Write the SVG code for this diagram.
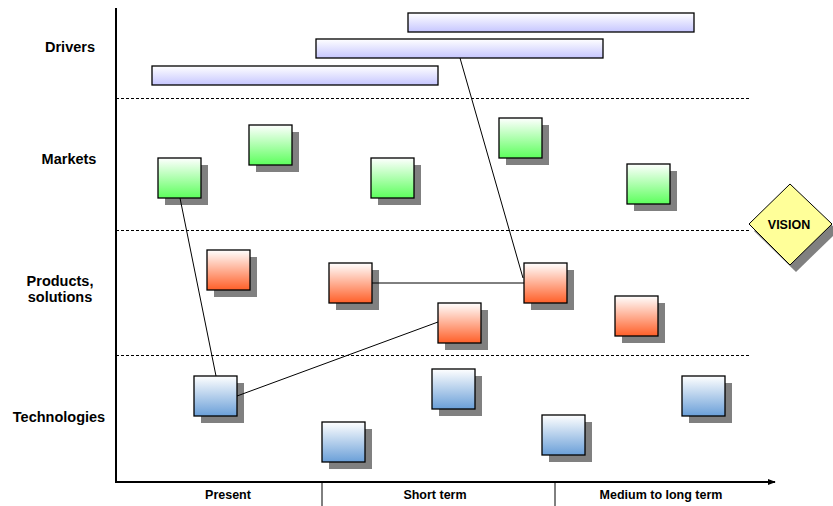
<svg xmlns="http://www.w3.org/2000/svg" width="833" height="506" viewBox="0 0 833 506">
<defs>
<linearGradient id="gG" x1="0" y1="0" x2="0" y2="1"><stop offset="0" stop-color="#ffffff"/><stop offset="1" stop-color="#5cff5c"/></linearGradient>
<linearGradient id="gR" x1="0" y1="0" x2="0" y2="1"><stop offset="0" stop-color="#ffffff"/><stop offset="1" stop-color="#ff5f28"/></linearGradient>
<linearGradient id="gB" x1="0" y1="0" x2="0" y2="1"><stop offset="0" stop-color="#ffffff"/><stop offset="1" stop-color="#6a9fd8"/></linearGradient>
<linearGradient id="gP" x1="0" y1="0" x2="0" y2="1"><stop offset="0" stop-color="#ffffff"/><stop offset="1" stop-color="#c6c6ff"/></linearGradient>
<marker id="arr" viewBox="0 0 10 10" refX="9" refY="5" markerWidth="8" markerHeight="8" markerUnits="userSpaceOnUse" orient="auto"><path d="M0,1 L10,5 L0,9 z" fill="#000"/></marker>
</defs>
<style>
.lbl{font-family:"Liberation Sans",Arial,sans-serif;font-weight:bold;font-size:14.5px;fill:#000;text-anchor:middle}
.ax{font-family:"Liberation Sans",Arial,sans-serif;font-weight:bold;font-size:12.5px;fill:#000;text-anchor:middle}
.sh{fill:#808080}
.bx{stroke:#000;stroke-width:1.3}
.dash{stroke:#000;stroke-width:1;stroke-dasharray:3,2;fill:none}
.con{stroke:#000;stroke-width:1;fill:none}
</style>
<rect width="833" height="506" fill="#fff"/>
<g id="axes">
<line x1="116" y1="8" x2="116" y2="483" stroke="#000" stroke-width="2"/>
<line x1="115" y1="482" x2="775" y2="482" stroke="#000" stroke-width="2" marker-end="url(#arr)"/>
<line x1="322" y1="482" x2="322" y2="506" stroke="#000" stroke-width="1"/>
<line x1="555" y1="482" x2="555" y2="506" stroke="#000" stroke-width="1"/>
<line class="dash" x1="116" y1="98.500" x2="750" y2="98.500"/>
<line class="dash" x1="116" y1="230.500" x2="750" y2="230.500"/>
<line class="dash" x1="116" y1="355.500" x2="750" y2="355.500"/>
<text class="ax" x="228" y="499">Present</text>
<text class="ax" x="435" y="499">Short term</text>
<text class="ax" x="661" y="499">Medium to long term</text>
</g>
<g id="row-labels">
<text class="lbl" x="70" y="52">Drivers</text>
<text class="lbl" x="69" y="164">Markets</text>
<text class="lbl" x="60" y="286">Products,</text>
<text class="lbl" x="60" y="302">solutions</text>
<text class="lbl" x="59" y="422">Technologies</text>
</g>
<g id="drivers">
<g id="d1"><rect class="bx" x="408" y="13" width="286" height="19" fill="url(#gP)"/></g>
<g id="d2"><rect class="bx" x="316" y="39" width="287" height="19" fill="url(#gP)"/></g>
<g id="d3"><rect class="bx" x="152" y="66" width="286" height="19" fill="url(#gP)"/></g>
</g>
<g id="markets">
<g id="m1"><rect class="sh" x="165" y="165" width="43" height="40"/><rect class="bx" x="158" y="158" width="43" height="40" fill="url(#gG)"/></g>
<g id="m2"><rect class="sh" x="256" y="132" width="43" height="40"/><rect class="bx" x="249" y="125" width="43" height="40" fill="url(#gG)"/></g>
<g id="m3"><rect class="sh" x="378" y="165" width="43" height="40"/><rect class="bx" x="371" y="158" width="43" height="40" fill="url(#gG)"/></g>
<g id="m4"><rect class="sh" x="506" y="125" width="43" height="40"/><rect class="bx" x="499" y="118" width="43" height="40" fill="url(#gG)"/></g>
<g id="m5"><rect class="sh" x="634" y="171" width="43" height="40"/><rect class="bx" x="627" y="164" width="43" height="40" fill="url(#gG)"/></g>
</g>
<g id="products">
<g id="p1"><rect class="sh" x="214" y="257" width="43" height="40"/><rect class="bx" x="207" y="250" width="43" height="40" fill="url(#gR)"/></g>
<g id="p2"><rect class="sh" x="336" y="270" width="43" height="40"/><rect class="bx" x="329" y="263" width="43" height="40" fill="url(#gR)"/></g>
<g id="p3"><rect class="sh" x="445" y="310" width="43" height="40"/><rect class="bx" x="438" y="303" width="43" height="40" fill="url(#gR)"/></g>
<g id="p4"><rect class="sh" x="531" y="270" width="43" height="40"/><rect class="bx" x="524" y="263" width="43" height="40" fill="url(#gR)"/></g>
<g id="p5"><rect class="sh" x="622" y="303" width="43" height="40"/><rect class="bx" x="615" y="296" width="43" height="40" fill="url(#gR)"/></g>
</g>
<g id="technologies">
<g id="t1"><rect class="sh" x="201" y="383" width="43" height="40"/><rect class="bx" x="194" y="376" width="43" height="40" fill="url(#gB)"/></g>
<g id="t2"><rect class="sh" x="329" y="429" width="43" height="40"/><rect class="bx" x="322" y="422" width="43" height="40" fill="url(#gB)"/></g>
<g id="t3"><rect class="sh" x="439" y="376" width="43" height="40"/><rect class="bx" x="432" y="369" width="43" height="40" fill="url(#gB)"/></g>
<g id="t4"><rect class="sh" x="549" y="422" width="43" height="40"/><rect class="bx" x="542" y="415" width="43" height="40" fill="url(#gB)"/></g>
<g id="t5"><rect class="sh" x="689" y="383" width="43" height="40"/><rect class="bx" x="682" y="376" width="43" height="40" fill="url(#gB)"/></g>
</g>
<g id="connectors">
<line class="con" x1="180" y1="198" x2="216" y2="376"/>
<line class="con" x1="237" y1="396" x2="438" y2="322"/>
<line class="con" x1="372" y1="283" x2="524" y2="283"/>
<line class="con" x1="460" y1="58" x2="523" y2="278"/>
</g>
<g id="vision">
<polygon points="796,191 838,231 796,272 754,231" fill="#808080"/>
<polygon points="790,184 832,224 790,265 749,224" fill="#ffff99" stroke="#000" stroke-width="1"/>
<text class="ax" x="789" y="229">VISION</text>
</g>
</svg>
